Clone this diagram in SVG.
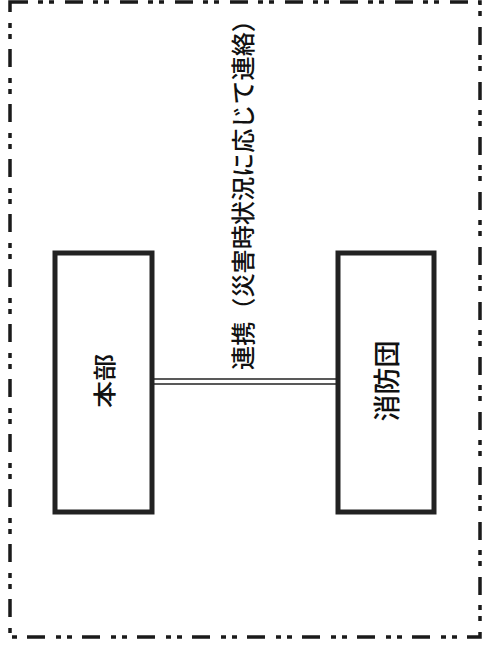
<svg xmlns="http://www.w3.org/2000/svg" width="491" height="648" viewBox="0 0 491 648">
<style>
.frame{fill:none;stroke:#1a1a1a;stroke-width:3.5;stroke-dasharray:18 10 5 6 5 11}
.box{fill:#fff;stroke:#222;stroke-width:5}
.conn{stroke:#222;stroke-width:1.6;fill:none}
.t{font-family:"Noto Sans CJK JP","Noto Sans CJK SC",sans-serif;fill:#111;font-weight:500}
</style>
<rect width="491" height="648" fill="#fff"/>
<rect class="frame" x="10" y="2" width="470" height="635"/>
<g id="connectors">
<line class="conn" x1="152" y1="379" x2="337" y2="379"/>
<line class="conn" x1="152" y1="384" x2="337" y2="384"/>
<text class="t" font-size="24" transform="translate(241,370) rotate(-90)" dominant-baseline="central" textLength="362" lengthAdjust="spacingAndGlyphs">連携（災害時状況に応じて連絡）</text>
</g>
<g id="honbu">
<rect class="box" x="55" y="253" width="97" height="259"/>
<text class="t" font-size="23" transform="translate(102.5,381) rotate(-90) scale(1.18,1)" text-anchor="middle" dominant-baseline="central">本部</text>
</g>
<g id="shobodan">
<rect class="box" x="338" y="253" width="96" height="259"/>
<text class="t" font-size="27" transform="translate(385.5,381) rotate(-90)" text-anchor="middle" dominant-baseline="central">消防団</text>
</g>
</svg>
